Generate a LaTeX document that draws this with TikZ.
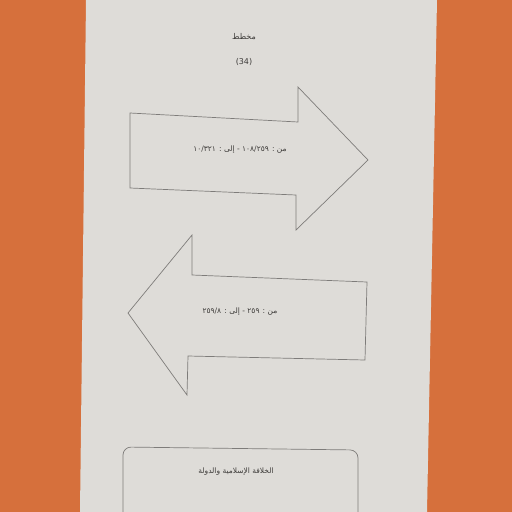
\documentclass[tikz,border=0pt]{standalone}
\usepackage{fontspec}
\newfontfamily\arabicfont[Script=Arabic]{DejaVu Sans}
\TeXXeTstate=1
\definecolor{bgorange}{HTML}{D6703C}
\definecolor{paper}{HTML}{DEDCD8}
\definecolor{inkline}{HTML}{7E7C7A}
\definecolor{inktext}{HTML}{3E3C3A}
\tikzset{
  shapeline/.style={draw=inkline, line width=0.7pt, line join=miter},
  lbl/.style={font=\arabicfont\fontsize{7.5}{8}\selectfont, text=inktext, inner sep=0pt},
  ttl/.style={font=\arabicfont\fontsize{8}{9}\selectfont, text=inktext, inner sep=0pt}
}
\begin{document}
\begin{tikzpicture}[x=1pt,y=-1pt]
\useasboundingbox (0,0) rectangle (512,512);
\fill[bgorange] (0,0) rectangle (512,512);
\fill[paper] (86,0) -- (437,0) -- (427,512) -- (80,512) -- cycle;
% right arrow
\draw[shapeline] (130,113) -- (298,122) -- (298,87) -- (368,160) -- (296,230) -- (296,195) -- (130,188) -- cycle;
% left arrow
\draw[shapeline] (192,275) -- (192,235) -- (128,313) -- (187,395) -- (188,356) -- (365,360) -- (367,282) -- cycle;
% bottom box
\draw[shapeline, rounded corners=8pt] (123,520) -- (123,447) -- (358,450) -- (358,520);
\node[ttl] (title) at (244,37) {\beginR مخطط\endR};
\node[ttl] (num) at (244,62) {(34)};
\node[lbl] (t1) at (240,150) {\beginR من : ١٠٨/٢٥٩ - إلى : ١٠/٣٢١\endR};
\node[lbl] (t2) at (240,312) {\beginR من : ٢٥٩ - إلى : ٢٥٩/٨\endR};
\node[lbl] (t3) at (236,472) {\beginR الخلافة الإسلامية والدولة\endR};
\end{tikzpicture}
\end{document}
